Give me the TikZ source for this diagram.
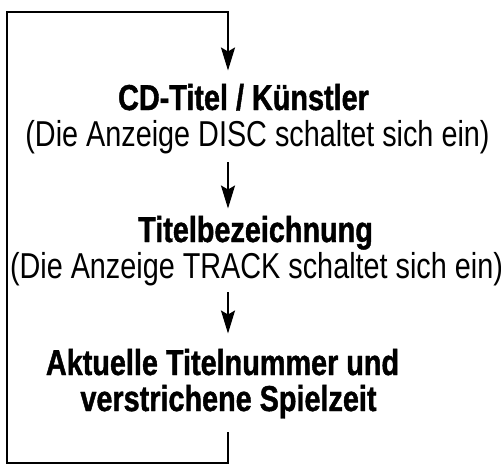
\documentclass[tikz,border=0pt]{standalone}
\usepackage{fontspec}
\setmainfont{Liberation Sans}[FakeStretch=0.8, BoldFeatures={FakeBold=1.2}]
\usetikzlibrary{arrows.meta}

\begin{document}
\begin{tikzpicture}[
x=0.5pt, y=-0.5pt,
linenode/.style={anchor=base, inner sep=0pt, font=\fontsize{18}{18}\selectfont},
boldnode/.style={linenode, font=\fontsize{18}{18}\selectfont\bfseries},
arrowline/.style={draw=black, line width=1pt, -{Stealth[length=11.5pt, width=7pt, inset=2pt]}},
loopline/.style={arrowline, line width=1.2pt},
]
\useasboundingbox (0,0) rectangle (501,465);
\coordinate (col) at (228,0);
\coordinate (bottomleft) at (7,463);
\coordinate (topleft) at (7,12);

\node[boldnode] (cdline)     at (243.5,110) {CD-Titel / Künstler};
\node[linenode] (discnote)   at (257.5,146) {(Die Anzeige DISC schaltet sich ein)};
\node[boldnode] (titleline)  at (255.5,242) {Titelbezeichnung};
\node[linenode] (tracknote)  at (256.5,278) {(Die Anzeige TRACK schaltet sich ein)};
\node[boldnode] (numberline) at (222.5,375) {Aktuelle Titelnummer und};
\node[boldnode] (timeline)   at (228.5,411) {verstrichene Spielzeit};
%Lines
\draw[arrowline, shorten <=4.3pt, shorten >=3.5pt] (discnote.south -| col) -- (titleline.north -| col);
\draw[arrowline, shorten <=3.3pt, shorten >=7.5pt] (tracknote.south -| col) -- (numberline.north -| col);
%Loop back
\draw[loopline, shorten <=6.8pt, shorten >=6.5pt] (timeline.south -| col) -- (col |- bottomleft) -- (bottomleft) -- (topleft) -- (topleft -| col) -- (cdline.north -| col);
\end{tikzpicture}
\end{document}
